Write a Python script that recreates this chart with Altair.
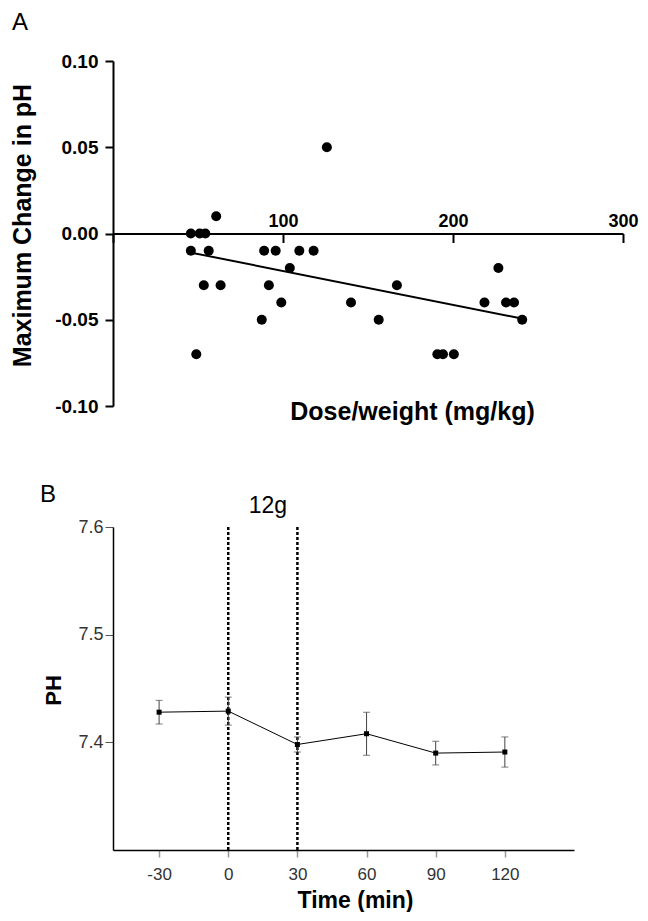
import altair as alt
import pandas as pd

# ---------------- Panel A data ----------------
dose = [125.8, 60.7, 45.8, 51.0, 54.3, 45.8, 56.3, 88.9, 95.7, 109.6, 118.0,
        104.0, 226.7, 53.4, 63.3, 91.7, 167.0, 99.0, 140.0, 218.5, 231.2, 235.9,
        87.5, 156.3, 240.7, 49.0, 190.8, 194.1, 200.5]
dph = [0.05, 0.01, 0.0, 0.0, 0.0, -0.01, -0.01, -0.01, -0.01, -0.01, -0.01,
       -0.02, -0.02, -0.03, -0.03, -0.03, -0.03, -0.04, -0.04, -0.04, -0.04, -0.04,
       -0.05, -0.05, -0.05, -0.07, -0.07, -0.07, -0.07]
fit_x = [46, 241]
fit_y = [-0.0111, -0.0494]

# ---------------- Panel B data ----------------
time_min = [-30, 0, 30, 60, 90, 120]
ph_mean = [7.428, 7.429, 7.398, 7.408, 7.390, 7.391]
ph_err = [0.011, 0.013, 0.007, 0.020, 0.011, 0.014]
dose_lines = [0, 30]

FONT = "Liberation Sans"

dfA = pd.DataFrame({"dose": dose, "dph": dph})
dfFit = pd.DataFrame({"dose": fit_x, "dph": fit_y})
dfB = pd.DataFrame({"t": time_min, "ph": ph_mean, "err": ph_err})
dfB["lo"] = dfB["ph"] - dfB["err"]
dfB["hi"] = dfB["ph"] + dfB["err"]
dfV = pd.DataFrame({"t": dose_lines, "top": [7.6, 7.6], "bot": [7.3, 7.3]})

minus_fix_2 = "replace(format(datum.value, '.2f'), '\u2212', '-')"

xA = alt.X(
    "dose:Q",
    scale=alt.Scale(domain=[0, 300], nice=False, zero=False),
    axis=alt.Axis(
        orient="bottom", offset=-172.5, values=[0, 100, 200, 300],
        labelExpr="datum.value == 0 ? '' : datum.label",
        labelBaseline="alphabetic", labelPadding=-16, labelFlush=False,
        labelOverlap=False, labelFont=FONT, labelFontSize=18,
        labelFontWeight="bold", labelColor="black",
        tickSize=9, tickWidth=2, tickColor="black",
        domainWidth=2, domainColor="black", grid=False,
        title="Dose/weight (mg/kg)", titleFont=FONT, titleFontSize=25,
        titleFontWeight="bold", titleColor="black",
        titleX=299, titleY=186, titleAlign="center", titleBaseline="alphabetic",
    ),
)
yA = alt.Y(
    "dph:Q",
    scale=alt.Scale(domain=[-0.1, 0.1], nice=False, zero=False),
    axis=alt.Axis(
        values=[-0.1, -0.05, 0, 0.05, 0.1], labelExpr=minus_fix_2,
        labelFont=FONT, labelFontSize=19, labelFontWeight="bold",
        labelColor="black", labelPadding=7, labelOverlap=False, labelFlush=False,
        tickSize=8, tickWidth=2, tickColor="black",
        domainWidth=2, domainColor="black", grid=False,
        title="Maximum Change in pH", titleFont=FONT, titleFontSize=25,
        titleFontWeight="bold", titleColor="black",
        titleX=-91, titleY=164, titleAngle=270, titleAlign="center",
        titleBaseline="middle",
    ),
)

ptsA = alt.Chart(dfA).mark_circle(size=100, color="black", opacity=1).encode(x=xA, y=yA)
fitA = alt.Chart(dfFit).mark_line(color="black", strokeWidth=2).encode(x="dose:Q", y="dph:Q")
labA = alt.Chart(pd.DataFrame({"s": ["A"]})).mark_text(
    font=FONT, fontSize=24, align="left", baseline="alphabetic", color="black"
).encode(x=alt.value(-101), y=alt.value(-31), text="s:N")

panelA = alt.layer(ptsA, fitA, labA).properties(width=510, height=345)

# ---------------- Panel B ----------------
xB = alt.X(
    "t:Q",
    scale=alt.Scale(domain=[-50, 150], nice=False, zero=False),
    axis=alt.Axis(
        values=time_min,
        labelExpr="replace(datum.label, '\u2212', '-')",
        labelFont=FONT, labelFontSize=17, labelColor="#333333",
        labelPadding=9, labelFlush=False, labelOverlap=False,
        tickSize=7, tickWidth=1.5, tickColor="#999999",
        domainWidth=1.5, domainColor="black", grid=False,
        title="Time (min)", titleFont=FONT, titleFontSize=23,
        titleFontWeight="bold", titleColor="black",
        titleX=242, titleY=57, titleAlign="center", titleBaseline="alphabetic",
    ),
)
yB = alt.Y(
    "ph:Q",
    scale=alt.Scale(domain=[7.3, 7.6], nice=False, zero=False),
    axis=alt.Axis(
        values=[7.4, 7.5, 7.6], format=".1f",
        labelFont=FONT, labelFontSize=18, labelColor="#333333",
        labelPadding=2, labelOverlap=False, labelFlush=False,
        tickSize=8, tickWidth=1, tickColor="#555555",
        domainWidth=1.5, domainColor="black", grid=False,
        title="PH", titleFont=FONT, titleFontSize=22, titleFontWeight="bold",
        titleColor="black", titleX=-60, titleY=163, titleAngle=270,
        titleAlign="center", titleBaseline="middle",
    ),
)

vlines = alt.Chart(dfV).mark_rule(color="black", strokeWidth=2.5, strokeDash=[3, 2]).encode(
    x="t:Q", y="top:Q", y2="bot:Q"
)
ebar = alt.Chart(dfB).mark_rule(color="#444444", strokeWidth=1).encode(x="t:Q", y="lo:Q", y2="hi:Q")
capLo = alt.Chart(dfB).mark_tick(color="#444444", orient="horizontal", size=7, thickness=1).encode(
    x="t:Q", y="lo:Q"
)
capHi = alt.Chart(dfB).mark_tick(color="#444444", orient="horizontal", size=7, thickness=1).encode(
    x="t:Q", y="hi:Q"
)
lineB = alt.Chart(dfB).mark_line(color="black", strokeWidth=1).encode(x=xB, y=yB)
ptsB = alt.Chart(dfB).mark_square(size=25, color="black", opacity=1).encode(x="t:Q", y="ph:Q")
txt12 = alt.Chart(pd.DataFrame({"t": [15], "ph": [7.6], "s": ["12g"]})).mark_text(
    font=FONT, fontSize=23, align="center", baseline="alphabetic", dx=5, dy=-14, color="black"
).encode(x="t:Q", y="ph:Q", text="s:N")
labB = alt.Chart(pd.DataFrame({"s": ["B"]})).mark_text(
    font=FONT, fontSize=24, align="left", baseline="alphabetic", color="black"
).encode(x=alt.value(-73), y=alt.value(-25), text="s:N")

panelB = alt.layer(lineB, vlines, ebar, capLo, capHi, ptsB, txt12, labB).properties(
    width=461, height=323
)

chart = (
    alt.vconcat(panelA, panelB, spacing=121, bounds="flush")
    .properties(padding={"left": 2, "top": 3, "right": 0, "bottom": 0}, background="white")
    .configure_view(strokeWidth=0, stroke="transparent")
)

chart.save("out.html", embed_options={"renderer": "svg", "actions": False})
